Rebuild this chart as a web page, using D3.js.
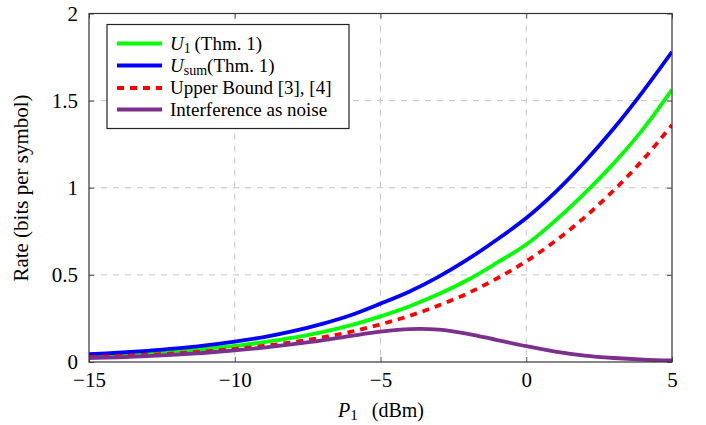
<!DOCTYPE html>
<html>
<head>
<meta charset="utf-8">
<script src="https://cdn.jsdelivr.net/npm/d3@7"></script>
<style>
  body { margin: 0; background: #fff; }
  svg text { font-family: "Liberation Serif", "Times New Roman", "DejaVu Serif", serif; }
</style>
</head>
<body>
<div id="chart"></div>
<script>
// P1 in dBm
var powerDbm = [-15, -14, -13, -12, -11, -10, -9, -8, -7, -6, -5, -4, -3, -2, -1, 0, 1, 2, 3, 4, 5];

// series
var rateU1 = [0.034, 0.041, 0.050, 0.062, 0.076, 0.092, 0.114, 0.140, 0.172, 0.212, 0.262, 0.320, 0.390, 0.472, 0.570, 0.674, 0.812, 0.968, 1.140, 1.335, 1.563];
var rateUsum = [0.045, 0.053, 0.064, 0.078, 0.096, 0.117, 0.143, 0.177, 0.219, 0.270, 0.335, 0.405, 0.490, 0.590, 0.703, 0.826, 0.975, 1.148, 1.340, 1.552, 1.780];
var rateUpper = [0.028, 0.034, 0.041, 0.050, 0.061, 0.075, 0.092, 0.114, 0.141, 0.174, 0.216, 0.265, 0.325, 0.395, 0.480, 0.578, 0.695, 0.830, 0.985, 1.160, 1.360];
var rateIAN = [0.022, 0.027, 0.034, 0.042, 0.053, 0.067, 0.083, 0.102, 0.124, 0.150, 0.174, 0.189, 0.186, 0.162, 0.126, 0.091, 0.060, 0.037, 0.023, 0.014, 0.009];

var xTicks = [-15, -10, -5, 0, 5];
var yTicks = [0, 0.5, 1, 1.5, 2];
var yTickLabels = ['0', '0.5', '1', '1.5', '2'];

var series = [
  { name: 'U1', values: rateU1, color: '#00ff00', dash: null },
  { name: 'Usum', values: rateUsum, color: '#0000ff', dash: null },
  { name: 'Upper', values: rateUpper, color: '#ff0000', dash: '7,6' },
  { name: 'IAN', values: rateIAN, color: '#7d2f8e', dash: null }
];

var W = 706, H = 425;
var plotL = 89, plotR = 672, plotT = 13.5, plotB = 362;

var svg = d3.select('#chart').append('svg')
  .attr('width', W)
  .attr('height', H);

var x = d3.scaleLinear().domain([-15, 5]).range([plotL, plotR]);
var y = d3.scaleLinear().domain([0, 2]).range([plotB, plotT]);

// grid
var grid = svg.append('g');
grid.selectAll('.gx')
  .data(xTicks.slice(1, -1))
  .enter().append('line')
  .attr('x1', function (d) { return x(d); })
  .attr('x2', function (d) { return x(d); })
  .attr('y1', plotT).attr('y2', plotB)
  .attr('stroke', '#c4c4c4').attr('stroke-width', 1)
  .attr('stroke-dasharray', '6,6');
grid.selectAll('.gy')
  .data(yTicks.slice(1, -1))
  .enter().append('line')
  .attr('y1', function (d) { return y(d); })
  .attr('y2', function (d) { return y(d); })
  .attr('x1', plotL).attr('x2', plotR)
  .attr('stroke', '#c4c4c4').attr('stroke-width', 1)
  .attr('stroke-dasharray', '6,6');

// lines
var line = d3.line()
  .x(function (d, i) { return x(powerDbm[i]); })
  .y(function (d) { return y(d); })
  .curve(d3.curveCatmullRom.alpha(0.5));

svg.append('clipPath').attr('id', 'plotclip')
  .append('rect')
  .attr('x', plotL).attr('y', plotT)
  .attr('width', plotR - plotL).attr('height', plotB - plotT);

svg.append('g').attr('clip-path', 'url(#plotclip)')
  .selectAll('path')
  .data(series)
  .enter().append('path')
  .attr('d', function (d) { return line(d.values); })
  .attr('fill', 'none')
  .attr('stroke', function (d) { return d.color; })
  .attr('stroke-width', 3.8)
  .attr('stroke-dasharray', function (d) { return d.dash; });

// axes with ticks inside, framed box
var axB = svg.append('g').attr('transform', 'translate(0,' + plotB + ')')
  .call(d3.axisBottom(x).tickValues(xTicks).tickSizeInner(-5).tickSizeOuter(0)
    .tickFormat(function (d) { return d < 0 ? '\u2212' + Math.abs(d) : d; }));
var axT = svg.append('g').attr('transform', 'translate(0,' + plotT + ')')
  .call(d3.axisTop(x).tickValues(xTicks).tickSizeInner(-5).tickSizeOuter(0).tickFormat(''));
var axL = svg.append('g').attr('transform', 'translate(' + plotL + ',0)')
  .call(d3.axisLeft(y).tickValues(yTicks).tickSizeInner(-5).tickSizeOuter(0)
    .tickFormat(function (d, i) { return yTickLabels[i]; }));
var axR = svg.append('g').attr('transform', 'translate(' + plotR + ',0)')
  .call(d3.axisRight(y).tickValues(yTicks).tickSizeInner(-5).tickSizeOuter(0).tickFormat(''));

[axB, axT, axL, axR].forEach(function (g) {
  g.select('.domain').remove();
  g.selectAll('line').attr('stroke', '#555');
  g.selectAll('text').attr('fill', '#000').attr('font-size', 21);
});
axB.selectAll('text').attr('dy', null).attr('y', 25);
axL.selectAll('text').attr('x', -11).attr('dy', '0.33em');

svg.append('rect')
  .attr('x', plotL).attr('y', plotT)
  .attr('width', plotR - plotL).attr('height', plotB - plotT)
  .attr('fill', 'none').attr('stroke', '#333').attr('stroke-width', 1.2);

// axis titles
var xt = svg.append('text')
  .attr('x', 381).attr('y', 417)
  .attr('text-anchor', 'middle')
  .attr('font-size', 20);
xt.append('tspan').attr('font-style', 'italic').text('P');
xt.append('tspan').attr('font-size', 15).attr('dy', 3).text('1');
xt.append('tspan').attr('dy', -3).text('\u2002\u2009(dBm)');

svg.append('text')
  .attr('transform', 'translate(28,188) rotate(-90)')
  .attr('text-anchor', 'middle')
  .attr('font-size', 21)
  .text('Rate (bits per symbol)');

// legend
var lg = svg.append('g');
lg.append('rect')
  .attr('x', 107).attr('y', 24.5)
  .attr('width', 242).attr('height', 104)
  .attr('fill', '#fff').attr('stroke', '#222').attr('stroke-width', 1.2);

var rowY = [43.5, 65.5, 88, 109.5];
series.forEach(function (s, i) {
  lg.append('line')
    .attr('x1', 117).attr('x2', 162)
    .attr('y1', rowY[i]).attr('y2', rowY[i])
    .attr('stroke', s.color).attr('stroke-width', 3.8)
    .attr('stroke-dasharray', s.dash);
});

var t1 = lg.append('text').attr('x', 170).attr('y', rowY[0] + 6).attr('font-size', 19);
t1.append('tspan').attr('font-style', 'italic').text('U');
t1.append('tspan').attr('font-size', 14).attr('dy', 3).text('1');
t1.append('tspan').attr('dy', -3).text('\u2009(Thm. 1)');

var t2 = lg.append('text').attr('x', 170).attr('y', rowY[1] + 6).attr('font-size', 19);
t2.append('tspan').attr('font-style', 'italic').text('U');
t2.append('tspan').attr('font-size', 14).attr('dy', 3).text('sum');
t2.append('tspan').attr('dy', -3).text('(Thm. 1)');

lg.append('text').attr('x', 170).attr('y', rowY[2] + 6).attr('font-size', 19)
  .text('Upper Bound [3], [4]');
lg.append('text').attr('x', 170).attr('y', rowY[3] + 6).attr('font-size', 19)
  .text('Interference as noise');
</script>
</body>
</html>
